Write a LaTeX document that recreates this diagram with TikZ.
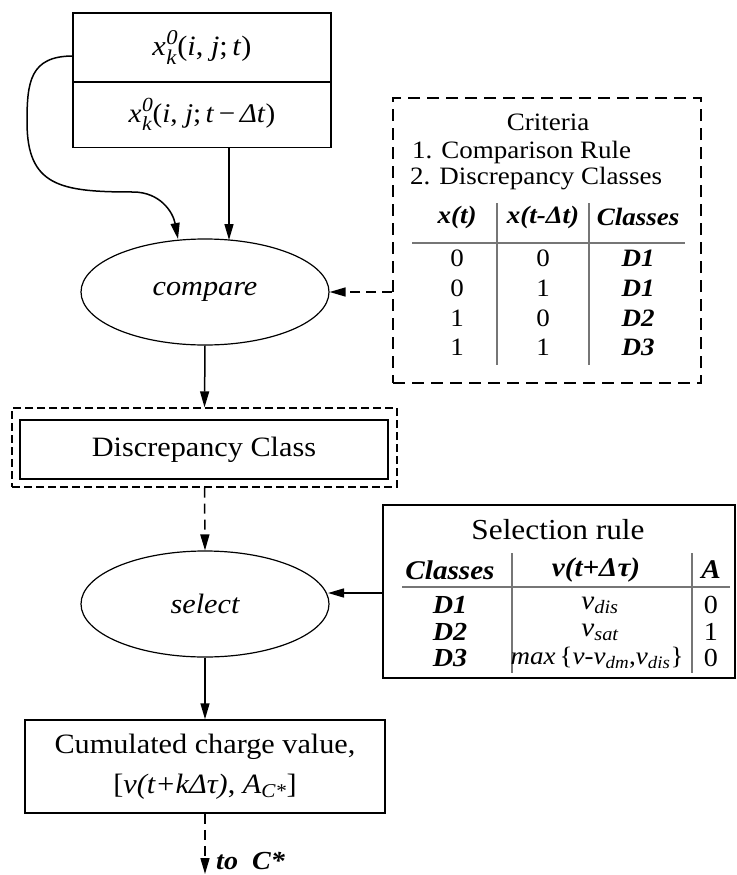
\documentclass[tikz,border=0pt]{standalone}
\usepackage{fix-cm}
\usepackage{amsmath}
\usepackage{fontspec}
\setmainfont[FakeStretch=1.08]{Liberation Serif}
\usetikzlibrary{arrows.meta,shapes.geometric}

\newcommand{\fs}[1]{\fontsize{#1}{#1}\selectfont}
\newcommand{\mi}[1]{\text{\itshape #1}}
\newcommand{\bi}[1]{\textbf{\textit{#1}}}
% x with stacked superscript 0 and subscript k, scripts at size #1
\newcommand{\xko}[1]{\textit{x}\kern0.5pt\makebox[0pt][l]{\raisebox{0.40em}{\fs{#1}\itshape 0}}%
  \raisebox{-0.30em}{\fs{#1}\itshape k}\kern1pt}
\definecolor{tgray}{RGB}{118,118,118}

\tikzset{
  line/.style={line width=1.5pt},
  tip/.style={-{Triangle[width=9pt,length=16pt]}},
  dashline/.style={dash pattern=on 10pt off 6pt},
  box/.style={draw, rectangle, line width=1.5pt, inner sep=0pt},
  oval/.style={draw, ellipse, line width=1.2pt, minimum width=248pt,
    minimum height=106pt, inner sep=0pt},
  txt/.style={inner sep=0pt},
  thinrule/.style={draw=tgray, line width=1.3pt},
  thickrule/.style={draw=tgray, line width=2.6pt},
}

\begin{document}
\begin{tikzpicture}[x=1pt,y=-1pt]
\useasboundingbox[fill=white] (0,0) rectangle (736,875);

% input states
\node[box, minimum width=258pt, minimum height=69pt] (xt) at (202,47.5)
  {\fs{28}\xko{21}(\textit{i}, \textit{j};\,\textit{t})};
\node[box, minimum width=258pt, minimum height=66pt] (xdt) at (202,114.5)
  {\fs{27}\xko{20}(\textit{i}, \textit{j};\,\textit{t}\,−\,\textit{Δt})};

% compare step
\node[oval] (compare) at (205,292) {\fs{28}\itshape compare};
\coordinate (cstart) at (73,56);
\coordinate (cinA) at (178,239);
\coordinate (cinB) at (229,240);
\draw[line,tip] (cstart) .. controls (30,56) and (27,82) .. (27,122)
  .. controls (27,186) and (60,192) .. (133,192)
  .. controls (160,192) and (173,212) .. (cinA);
\draw[line,tip] (xdt.south -| cinB) -- (cinB);

% criteria panel
\node[draw, line width=2pt, dash pattern=on 12pt off 7pt, minimum width=308pt,
  minimum height=285pt, inner sep=0pt] (crit) at (547,240.5) {};
\node[txt] (crittitle) at (548,122) {\fs{25}Criteria};
\node[txt, anchor=west] (rule1) at (412,152) {\fs{25}1. Comparison Rule};
\node[txt, anchor=west] (rule2) at (410,179) {\fs{25}2. Discrepancy Classes};
\node[txt] (ha) at (457,217) {\fs{25}\bi{x(t)}};
\node[txt] (hb) at (543,217) {\fs{25}\bi{x(t-Δt)}};
\node[txt] (hc) at (638,217) {\fs{25}\bi{Classes}};
\draw[thickrule] (412,243) -- (685,243);
\draw[thinrule] (497,203) -- (497,365);
\draw[thickrule] (589,203) -- (589,365);
\foreach \y/\a/\b/\c [count=\i] in {258/0/0/D1, 288/0/1/D1, 318/1/0/D2, 347/1/1/D3} {
  \node[txt] (ca\i) at (457,\y) {\fs{25}\a};
  \node[txt] (cb\i) at (543,\y) {\fs{25}\b};
  \node[txt] (cc\i) at (638,\y) {\fs{25}\bi{\c}};
}
\draw[line,dashline,tip] (crit.west |- compare.east) -- (compare.east);

% discrepancy class
\node[box, minimum width=368pt, minimum height=59pt] (disc) at (204,449.5)
  {\fs{28}Discrepancy Class};
\node[draw, line width=1.3pt, dash pattern=on 8pt off 4pt, minimum width=385pt,
  minimum height=79pt, inner sep=0pt] (discout) at (204.5,447.5) {};
\draw[line,tip] (compare.south) -- (discout.north);

% select step
\node[oval] (select) at (205,604) {\fs{28}\itshape select};
\draw[line,dashline,tip] (discout.south) -- (select.north);

% selection rule panel
\node[box, minimum width=352pt, minimum height=173pt] (selr) at (559,591.5) {};
\node[txt] (seltitle) at (558,530) {\fs{29}Selection rule};
\node[txt] (sa) at (450,570) {\fs{27}\bi{Classes}};
\node[txt] (sb) at (596,570) {\fs{27}\bi{v(t+Δτ)}};
\node[txt] (sc) at (711,570) {\fs{27}\bi{A}};
\draw[thickrule] (402,587) -- (730,587);
\draw[thickrule] (512,553) -- (512,673);
\draw[thinrule] (692,553) -- (692,673);
\node[txt] (d1) at (450,605) {\fs{26}\bi{D1}};
\node[txt] (d2) at (450,632) {\fs{26}\bi{D2}};
\node[txt] (d3) at (450,658) {\fs{26}\bi{D3}};
\node[txt] (v1) at (600,605) {\fs{27}$\mi{v}_{\mi{dis}}$};
\node[txt] (v2) at (600,632) {\fs{27}$\mi{v}_{\mi{sat}}$};
\node[txt] (v3) at (597,658) {\fs{25}\textit{max}\,\{\textit{v-}$\mi{v}_{\mi{dm}}$,$\mi{v}_{\mi{dis}}$\}};
\node[txt] (a1) at (711,605) {\fs{26}0};
\node[txt] (a2) at (711,632) {\fs{26}1};
\node[txt] (a3) at (711,658) {\fs{26}0};
\coordinate (sin) at (328,593);
\draw[line,tip] (selr.west |- sin) -- (sin);

% cumulated charge
\node[box, minimum width=360pt, minimum height=93pt, align=center,
  font=\fontsize{28}{40}\selectfont] (cum) at (205,766.5)
  {Cumulated charge value,\\
   {[}\textit{v(t+kΔτ)}, $\mi{A}_{\mi{C*}}${]}};
\draw[line,tip] (select.south) -- (cum.north);
\coordinate (out) at (203,874);
\draw[line,dashline,tip] (cum.south) -- (cum.south |- out);
\node[txt, anchor=west] (toC) at (216,861) {\fs{26}\bi{to\ \ C*}};
\end{tikzpicture}
\end{document}
